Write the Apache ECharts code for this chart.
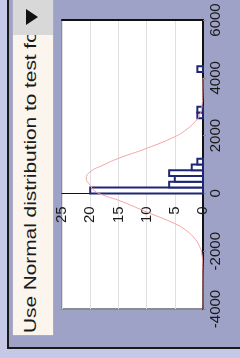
<!DOCTYPE html>
<html>
<head>
<meta charset="utf-8">
<script src="https://cdn.jsdelivr.net/npm/echarts@6/dist/echarts.min.js"></script>
<style>
  html, body { margin: 0; padding: 0; }
  body { width: 240px; height: 358px; background: #c6c8e8; position: relative; overflow: hidden; font-family: 'Liberation Sans', Arial, sans-serif; }
  .panel { position: absolute; left: 7px; top: -5px; width: 250px; height: 350px; border: 2px solid #1a1a1a; background: #9ea2c6; }
  .strip { position: absolute; left: 13px; top: -2px; width: 40px; height: 337px; background: #fbf5ee; overflow: hidden; box-shadow: 0 0 1px #e8d8cc; }
  .strip .label { position: absolute; left: 10px; top: 335px; white-space: nowrap; font-size: 16px; line-height: 16px; color: #1a1a1a; transform-origin: left top; transform: rotate(-90deg) scaleX(1.3); }
  .strip .head { position: absolute; left: 0; top: 0; width: 40px; height: 37px; background: #d8d8d8; }
  .strip .head span { position: absolute; left: 13px; top: 11px; width: 0; height: 0; border-top: 8px solid transparent; border-bottom: 8px solid transparent; border-left: 12px solid #111; }
  #chart { position: absolute; left: 0; top: 0; width: 240px; height: 358px; }
</style>
</head>
<body>
<div class="panel"></div>
<div class="strip">
  <div class="label">Use Normal distribution to test for normality</div>
  <div class="head"><span></span></div>
</div>
<div id="chart"></div>
<script>
// histogram bins (value range) and counts
const binStart = [0, 200, 400, 600, 800, 1000, 2600, 2800, 4200]
const binEnd = [200, 400, 600, 800, 1000, 1200, 2800, 3000, 4400]
const binCount = [20, 6, 5, 6, 2, 1, 1, 1, 1]

// fitted normal curve: value / count
const curveValue = [-4000, -3000, -2500, -2087, -1800, -1510, -1250, -1045, -642, -236, -62, 100, 285, 517, 747, 979, 1212, 1559, 1962, 2200, 2483, 2700, 3000, 3500, 4000]
const curveCount = [0, 0.01, 0.05, 0.2, 0.7, 1.7, 3.2, 5, 10, 15, 17.7, 19.3, 20, 20.7, 20, 17.7, 15, 10, 5, 3, 1.4, 0.6, 0.2, 0.03, 0]

const countTicks = { min: 0, max: 25, interval: 5 }
const valueTicks = { min: -4000, max: 6000, interval: 2000 }

const chart = echarts.init(document.getElementById('chart'), null, { renderer: 'canvas' })

const bins = binStart.map((s, i) => [s, binEnd[i], binCount[i]])
const curve = curveValue.map((v, i) => [curveCount[i], v])

const labelFont = "'Liberation Sans', Arial, sans-serif"
const gridBottom = 49

chart.setOption({
  animation: false,
  backgroundColor: 'transparent',
  grid: {
    left: 62,
    right: 37,
    top: 20,
    bottom: gridBottom,
    show: true,
    backgroundColor: '#ffffff',
    borderColor: '#8c8c8c',
    borderWidth: 2
  },
  xAxis: [{
    type: 'value',
    min: countTicks.min,
    max: countTicks.max,
    interval: countTicks.interval,
    inverse: true,
    position: 'bottom',
    axisLine: { onZero: false, lineStyle: { color: '#111', width: 1 } },
    axisTick: { show: false },
    axisLabel: { rotate: 90, fontSize: 15, color: '#1a1a1a', margin: 13, fontFamily: labelFont },
    splitLine: { show: true, lineStyle: { color: '#e0e0e0', width: 1 } }
  }, {
    type: 'value',
    min: countTicks.min,
    max: countTicks.max,
    inverse: true,
    position: 'top',
    axisLine: { onZero: false, lineStyle: { color: '#111', width: 2 } },
    axisTick: { show: false },
    axisLabel: { show: false },
    splitLine: { show: false }
  }],
  yAxis: {
    type: 'value',
    min: valueTicks.min,
    max: valueTicks.max,
    interval: valueTicks.interval,
    position: 'right',
    axisLine: { show: true, onZero: false, lineStyle: { color: '#111', width: 2 } },
    axisTick: { show: true, length: 3, lineStyle: { color: '#888' } },
    axisLabel: { rotate: 90, fontSize: 15, color: '#1a1a1a', margin: 5, fontFamily: labelFont, formatter: v => String(v) },
    splitLine: { show: false }
  },
  series: [{
    type: 'custom',
    data: bins,
    encode: { x: 2, y: [0, 1] },
    renderItem: (params, api) => {
      const p0 = api.coord([0, api.value(0)])
      const p1 = api.coord([api.value(2), api.value(1)])
      return {
        type: 'rect',
        shape: {
          x: Math.min(p0[0], p1[0]),
          y: p1[1],
          width: Math.abs(p0[0] - p1[0]),
          height: p0[1] - p1[1]
        },
        style: { fill: '#ffffff', stroke: '#1f2775', lineWidth: 2 }
      }
    },
    z: 2
  }, {
    type: 'line',
    data: curve,
    showSymbol: false,
    smooth: true,
    lineStyle: { color: '#f3a4a4', width: 1 },
    z: 3
  }]
})

// the count axis sits on the value-axis zero line, as in the original
const zeroY = chart.convertToPixel({ yAxisIndex: 0 }, 0)
const bottomY = chart.getHeight() - gridBottom
chart.setOption({
  xAxis: [{ offset: zeroY - bottomY }, {}]
})
</script>
</body>
</html>
